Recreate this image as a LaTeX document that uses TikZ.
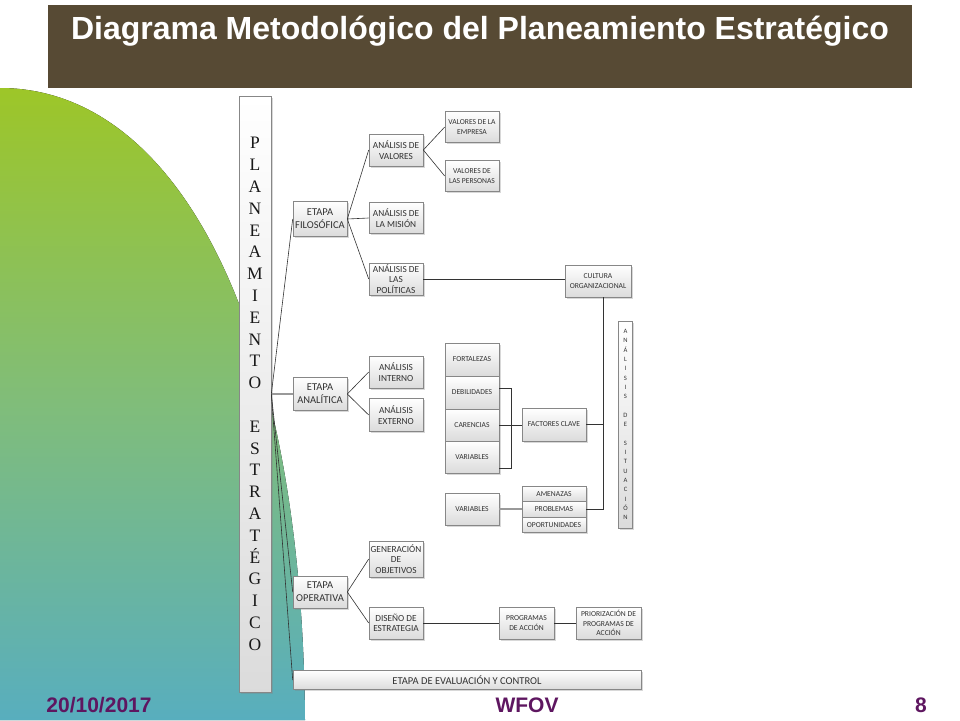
\documentclass[tikz,border=0pt]{standalone}
\usepackage{fontspec}
\newfontfamily\calib{Carlito}
\newfontfamily\arialf{Liberation Sans}
\newfontfamily\serifbox{Liberation Serif}
\usetikzlibrary{shadows,calc}
\definecolor{titlebrown}{RGB}{87,74,52}
\definecolor{topgreen}{RGB}{157,198,40}
\definecolor{midgreen}{RGB}{128,189,122}
\definecolor{botteal}{RGB}{88,174,190}
\definecolor{footpurple}{RGB}{94,22,96}
\definecolor{boxborder}{RGB}{135,135,135}
\definecolor{boxtext}{RGB}{50,50,50}
\tikzset{
  bx/.style={draw=boxborder, line width=0.6pt, top color=white, bottom color=black!14,
    drop shadow={shadow xshift=1.6pt, shadow yshift=-1.6pt, opacity=0.3},
    inner sep=1pt, align=center, text=boxtext,
    font=\calib\fontsize{9.3}{10.6}\selectfont},
  lvone/.style={bx, font=\calib\fontsize{10.5}{13}\selectfont},
  smallbx/.style={bx, font=\calib\fontsize{7.6}{9.4}\selectfont},
  conn/.style={draw=black!80, line width=0.6pt},
  thickconn/.style={draw=black!40, line width=1.6pt},
  foot/.style={font=\arialf\bfseries\fontsize{21}{24}\selectfont, text=footpurple},
}
\begin{document}
\begin{tikzpicture}[x=1pt,y=-1pt]
\useasboundingbox (0,0) rectangle (960,720);
\fill[white] (0,0) rectangle (960,720);
% green decoration
\fill[top color=topgreen, bottom color=botteal, middle color=midgreen]
  (0,88) .. controls (175,88) and (302,320) .. (305,720) -- (0,720) -- cycle;
% title bar
\fill[titlebrown] (48,5) rectangle (912,88);
\node[font=\arialf\bfseries\fontsize{32}{36}\selectfont, text=white] (title) at (480,31)
  {Diagrama Metodológico del Planeamiento Estratégico};

% main vertical box
\node[bx, minimum width=32pt, minimum height=596pt, inner sep=0pt, text=black!90,
  font=\serifbox\fontsize{17.5}{21.8}\selectfont] (pe) at (255,394)
  {P\\L\\A\\N\\E\\A\\M\\I\\E\\N\\T\\O\\[21.8pt]E\\S\\T\\R\\A\\T\\É\\G\\I\\C\\O};

% level 1
\node[lvone, minimum width=54pt, minimum height=35pt] (ef) at (320,219) {ETAPA\\FILOSÓFICA};
\node[lvone, minimum width=54pt, minimum height=33pt] (ea) at (320,394) {ETAPA\\ANALÍTICA};
\node[lvone, minimum width=54pt, minimum height=32pt] (eo) at (320,592) {ETAPA\\OPERATIVA};
\node[lvone, minimum width=348pt, minimum height=19pt] (eec) at (467,680) {ETAPA DE EVALUACIÓN Y CONTROL};

% level 2
\node[bx, minimum width=54pt, minimum height=32pt] (av) at (396,150) {ANÁLISIS DE\\VALORES};
\node[bx, minimum width=54pt, minimum height=31pt] (am) at (396,218) {ANÁLISIS DE\\LA MISIÓN};
\node[bx, minimum width=54pt, minimum height=32pt] (ap) at (396,279) {ANÁLISIS DE\\LAS\\POLÍTICAS};
\node[bx, minimum width=54pt, minimum height=32pt] (ai) at (396,372) {ANÁLISIS\\INTERNO};
\node[bx, minimum width=54pt, minimum height=33pt] (ae) at (396,415) {ANÁLISIS\\EXTERNO};
\node[bx, minimum width=54pt, minimum height=36pt] (go) at (396,559) {GENERACIÓN\\DE\\OBJETIVOS};
\node[bx, minimum width=54pt, minimum height=32pt] (de) at (396,623) {DISEÑO DE\\ESTRATEGIA};

% level 3
\node[smallbx, minimum width=54pt, minimum height=31pt] (ve) at (472,127) {VALORES DE LA\\EMPRESA};
\node[smallbx, minimum width=54pt, minimum height=31pt] (vp) at (472,176) {VALORES DE\\LAS PERSONAS};
\node[smallbx, minimum width=66pt, minimum height=32pt] (co) at (598,281) {CULTURA\\ORGANIZACIONAL};

\node[smallbx, minimum width=54pt, minimum height=33pt] (fo) at (472,359.5) {FORTALEZAS};
\node[smallbx, minimum width=54pt, minimum height=33pt] (deb) at (472,392.5) {DEBILIDADES};
\node[smallbx, minimum width=54pt, minimum height=32pt] (car) at (472,425) {CARENCIAS};
\node[smallbx, minimum width=54pt, minimum height=32pt] (var) at (472,457) {VARIABLES};
\node[smallbx, minimum width=64pt, minimum height=33pt] (fc) at (554,424.5) {FACTORES CLAVE};

\node[smallbx, minimum width=54pt, minimum height=32pt] (vartwo) at (472,509) {VARIABLES};
\node[smallbx, minimum width=64pt, minimum height=15.5pt] (amz) at (554,494) {AMENAZAS};
\node[smallbx, minimum width=64pt, minimum height=15.5pt] (pr) at (554,509.5) {PROBLEMAS};
\node[smallbx, minimum width=64pt, minimum height=15.5pt] (op) at (554,525) {OPORTUNIDADES};

\node[smallbx, minimum width=14pt, minimum height=207pt, inner sep=0pt,
  font=\calib\fontsize{6.6}{9.3}\selectfont] (as) at (625.5,424.5)
  {A\\N\\Á\\L\\I\\S\\I\\S\\[9.3pt]D\\E\\[9.3pt]S\\I\\T\\U\\A\\C\\I\\Ó\\N};

\node[smallbx, minimum width=55pt, minimum height=32pt] (pa) at (526.5,623) {PROGRAMAS\\DE ACCIÓN};
\node[smallbx, minimum width=65pt, minimum height=32pt] (pp) at (608.5,623) {PRIORIZACIÓN DE\\PROGRAMAS DE\\ACCIÓN};

% connectors
\coordinate (bus) at (603,0);
\draw[thickconn] (pe.east) -- (ea.west);
\draw[conn] (pe.east) -- (ef.west);
\draw[conn] (pe.east) -- (eo.west);
\draw[conn] (pe.east) -- (eec.west);

\draw[conn] (ef.east) -- (av.west);
\draw[conn] (ef.east) -- (am.west);
\draw[conn] (ef.east) -- (ap.west);
\draw[conn] (av.east) -- (ve.west);
\draw[conn] (av.east) -- (vp.west);
\draw[conn] (ap.east) -- (ap.east -| co.west);
\draw[conn] (co.south -| bus) -- (bus |- pr.east) -- (pr.east);
\draw[conn] (fc.east) -- (fc.east -| bus);

\draw[conn] (ea.east) -- (ai.west);
\draw[conn] (ea.east) -- (ae.west);
\draw[conn] ($(deb.east)+(0,-4)$) -- ++(12,0) |- ($(var.east)+(0,11)$);
\draw[conn] (car.east) -- (car.east -| fc.west);
\draw[thickconn] (vartwo.east) -- (vartwo.east -| pr.west);

\draw[conn] (eo.east) -- (go.west);
\draw[conn] (eo.east) -- (de.west);
\draw[conn] (de.east) -- (pa.west);
\draw[conn] (pa.east) -- (pp.west);

% footer
\node[foot] (date) at (99,705) {20/10/2017};
\node[foot] (wfov) at (527,705) {WFOV};
\node[foot] (page) at (921,705) {8};
\end{tikzpicture}
\end{document}
